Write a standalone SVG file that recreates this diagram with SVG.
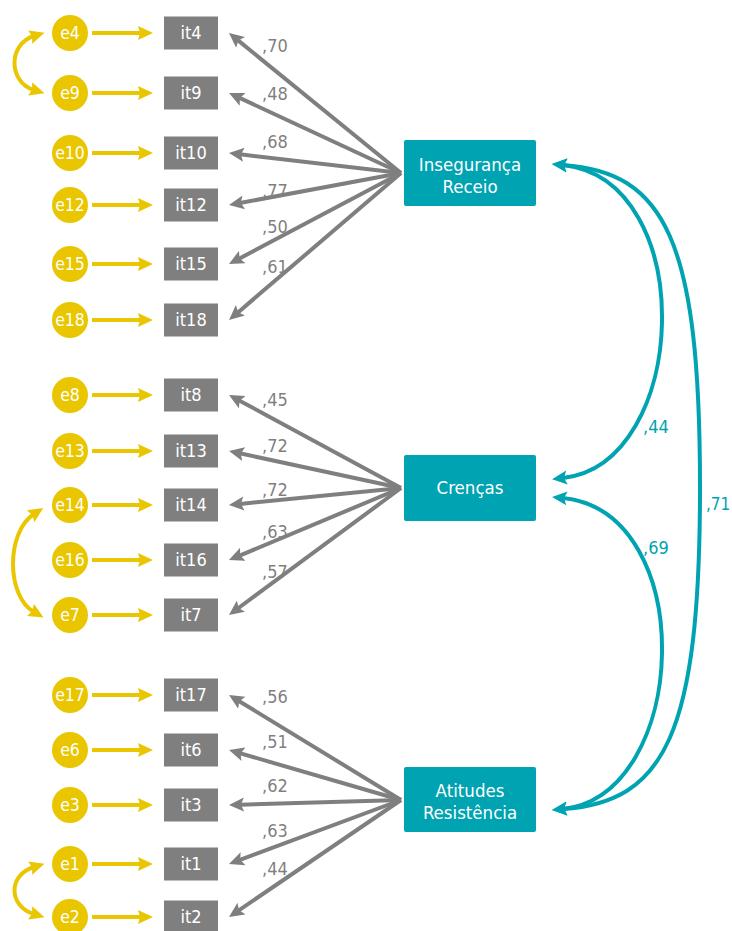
<svg xmlns="http://www.w3.org/2000/svg" width="732" height="931" viewBox="0 0 732 931">
<style>
text{font-family:'DejaVu Sans Condensed','DejaVu Sans','Liberation Sans',sans-serif;}
.e circle{fill:#e9c600;}
.e text{fill:#fff;font-size:17.5px;text-anchor:middle;}
.it rect{fill:#7f7f7f;}
.it text{fill:#fff;font-size:18px;text-anchor:middle;}
.lat rect{fill:#00a3b1;}
.lat text{fill:#fff;font-size:18.5px;text-anchor:middle;}
.y{stroke:#e9c600;stroke-width:4;fill:none;}
.g{stroke:#7f7f7f;stroke-width:4;fill:none;}
.t{stroke:#00a3b1;stroke-width:4;fill:none;}
.gl{fill:#7f7f7f;font-size:18px;}
.tl{fill:#00a3b1;font-size:18px;}
</style>
<defs>
<marker id="ay" markerUnits="userSpaceOnUse" markerWidth="16" markerHeight="15" refX="4" refY="7" orient="auto-start-reverse" viewBox="0 0 16 14"><path d="M0,0 L15,7 L0,14 L2,7 z" fill="#e9c600"/></marker>
<marker id="ag" markerUnits="userSpaceOnUse" markerWidth="16" markerHeight="15" refX="4" refY="7" orient="auto-start-reverse" viewBox="0 0 16 14"><path d="M0,0 L15,7 L0,14 L3,7 z" fill="#7f7f7f"/></marker>
<marker id="at" markerUnits="userSpaceOnUse" markerWidth="16" markerHeight="15" refX="4" refY="7" orient="auto-start-reverse" viewBox="0 0 16 14"><path d="M0,0 L15,7 L0,14 L3,7 z" fill="#00a3b1"/></marker>
</defs>

<g id="connectors">
<g marker-end="url(#ay)" class="y">
<line x1="92" y1="33" x2="142" y2="33"/>
<line x1="92" y1="93" x2="142" y2="93"/>
<line x1="92" y1="153" x2="142" y2="153"/>
<line x1="92" y1="205" x2="142" y2="205"/>
<line x1="92" y1="264" x2="142" y2="264"/>
<line x1="92" y1="320" x2="142" y2="320"/>
<line x1="92" y1="395" x2="142" y2="395"/>
<line x1="92" y1="451" x2="142" y2="451"/>
<line x1="92" y1="505" x2="142" y2="505"/>
<line x1="92" y1="560" x2="142" y2="560"/>
<line x1="92" y1="615" x2="142" y2="615"/>
<line x1="92" y1="695" x2="142" y2="695"/>
<line x1="92" y1="750" x2="142" y2="750"/>
<line x1="92" y1="805" x2="142" y2="805"/>
<line x1="92" y1="864" x2="142" y2="864"/>
<line x1="92" y1="917" x2="142" y2="917"/>
</g>
<g class="y" marker-start="url(#ay)" marker-end="url(#ay)">
<path d="M34 36 C8 44, 8 82, 34 90"/>
<path d="M34 514 C6 532, 6 596, 34 612"/>
<path d="M34 867 C8 875, 8 906, 34 914"/>
</g>
<g class="g" marker-end="url(#ag)">
<line x1="401" y1="173" x2="237.5" y2="39.9"/>
<line x1="401" y1="173" x2="239" y2="97.6"/>
<line x1="401" y1="173" x2="239.9" y2="154.3"/>
<line x1="401" y1="173" x2="239.8" y2="203"/>
<line x1="401" y1="173" x2="238.7" y2="258.9"/>
<line x1="401" y1="173" x2="237.4" y2="312.9"/>
<line x1="401" y1="488" x2="238.7" y2="400.2"/>
<line x1="401" y1="488" x2="239.8" y2="453.3"/>
<line x1="401" y1="488" x2="239.9" y2="503.9"/>
<line x1="401" y1="488" x2="239.1" y2="555.8"/>
<line x1="401" y1="488" x2="237.8" y2="608.5"/>
<line x1="401" y1="800" x2="238.4" y2="700.7"/>
<line x1="401" y1="800" x2="239.6" y2="753.1"/>
<line x1="401" y1="800" x2="240" y2="804.7"/>
<line x1="401" y1="800" x2="239.3" y2="860.2"/>
<line x1="401" y1="800" x2="238.1" y2="910.8"/>
</g>
<g class="t" marker-start="url(#at)" marker-end="url(#at)">
<path d="M563 165 C700 180, 690 464, 563 478"/>
<path d="M563 498 C700 512, 690 795, 563 809"/>
<path d="M563 165 C665 172, 700 240, 700 487 C700 734, 665 802, 563 809"/>
</g>
<g>
<text class="gl" x="262" y="52">,70</text>
<text class="gl" x="262" y="100">,48</text>
<text class="gl" x="262" y="148">,68</text>
<text class="gl" x="262" y="197">,77</text>
<text class="gl" x="262" y="233">,50</text>
<text class="gl" x="262" y="273">,61</text>
<text class="gl" x="262" y="406">,45</text>
<text class="gl" x="262" y="452">,72</text>
<text class="gl" x="262" y="496">,72</text>
<text class="gl" x="262" y="538">,63</text>
<text class="gl" x="262" y="578">,57</text>
<text class="gl" x="262" y="703">,56</text>
<text class="gl" x="262" y="748">,51</text>
<text class="gl" x="262" y="792">,62</text>
<text class="gl" x="262" y="837">,63</text>
<text class="gl" x="262" y="875">,44</text>
<text class="tl" x="643" y="433">,44</text>
<text class="tl" x="643" y="554">,69</text>
<text class="tl" x="706" y="510" style="font-size:17px">,71</text>
</g>
</g>

<g id="e4" class="e"><circle cx="70" cy="33" r="18"/><text x="70" y="39">e4</text></g>
<g id="e9" class="e"><circle cx="70" cy="93" r="18"/><text x="70" y="99">e9</text></g>
<g id="e10" class="e"><circle cx="70" cy="153" r="18"/><text x="70" y="159">e10</text></g>
<g id="e12" class="e"><circle cx="70" cy="205" r="18"/><text x="70" y="211">e12</text></g>
<g id="e15" class="e"><circle cx="70" cy="264" r="18"/><text x="70" y="270">e15</text></g>
<g id="e18" class="e"><circle cx="70" cy="320" r="18"/><text x="70" y="326">e18</text></g>
<g id="e8" class="e"><circle cx="70" cy="395" r="18"/><text x="70" y="401">e8</text></g>
<g id="e13" class="e"><circle cx="70" cy="451" r="18"/><text x="70" y="457">e13</text></g>
<g id="e14" class="e"><circle cx="70" cy="505" r="18"/><text x="70" y="511">e14</text></g>
<g id="e16" class="e"><circle cx="70" cy="560" r="18"/><text x="70" y="566">e16</text></g>
<g id="e7" class="e"><circle cx="70" cy="615" r="18"/><text x="70" y="621">e7</text></g>
<g id="e17" class="e"><circle cx="70" cy="695" r="18"/><text x="70" y="701">e17</text></g>
<g id="e6" class="e"><circle cx="70" cy="750" r="18"/><text x="70" y="756">e6</text></g>
<g id="e3" class="e"><circle cx="70" cy="805" r="18"/><text x="70" y="811">e3</text></g>
<g id="e1" class="e"><circle cx="70" cy="864" r="18"/><text x="70" y="870">e1</text></g>
<g id="e2" class="e"><circle cx="70" cy="917" r="18"/><text x="70" y="923">e2</text></g>

<g id="it4" class="it"><rect x="164" y="16.5" width="54" height="33"/><text x="191" y="39">it4</text></g>
<g id="it9" class="it"><rect x="164" y="76.5" width="54" height="33"/><text x="191" y="99">it9</text></g>
<g id="it10" class="it"><rect x="164" y="136.5" width="54" height="33"/><text x="191" y="159">it10</text></g>
<g id="it12" class="it"><rect x="164" y="188.5" width="54" height="33"/><text x="191" y="211">it12</text></g>
<g id="it15" class="it"><rect x="164" y="247.5" width="54" height="33"/><text x="191" y="270">it15</text></g>
<g id="it18" class="it"><rect x="164" y="303.5" width="54" height="33"/><text x="191" y="326">it18</text></g>
<g id="it8" class="it"><rect x="164" y="378.5" width="54" height="33"/><text x="191" y="401">it8</text></g>
<g id="it13" class="it"><rect x="164" y="434.5" width="54" height="33"/><text x="191" y="457">it13</text></g>
<g id="it14" class="it"><rect x="164" y="488.5" width="54" height="33"/><text x="191" y="511">it14</text></g>
<g id="it16" class="it"><rect x="164" y="543.5" width="54" height="33"/><text x="191" y="566">it16</text></g>
<g id="it7" class="it"><rect x="164" y="598.5" width="54" height="33"/><text x="191" y="621">it7</text></g>
<g id="it17" class="it"><rect x="164" y="678.5" width="54" height="33"/><text x="191" y="701">it17</text></g>
<g id="it6" class="it"><rect x="164" y="733.5" width="54" height="33"/><text x="191" y="756">it6</text></g>
<g id="it3" class="it"><rect x="164" y="788.5" width="54" height="33"/><text x="191" y="811">it3</text></g>
<g id="it1" class="it"><rect x="164" y="847.5" width="54" height="33"/><text x="191" y="870">it1</text></g>
<g id="it2" class="it"><rect x="164" y="900.5" width="54" height="33"/><text x="191" y="923">it2</text></g>

<g id="inseguranca" class="lat"><rect x="404" y="140" width="132" height="66" rx="2"/><text x="470" y="171">Insegurança</text><text x="470" y="193">Receio</text></g>
<g id="crencas" class="lat"><rect x="404" y="455" width="132" height="66" rx="2"/><text x="470" y="494">Crenças</text></g>
<g id="atitudes" class="lat"><rect x="404" y="767" width="132" height="65" rx="2"/><text x="470" y="797">Atitudes</text><text x="470" y="819">Resistência</text></g>
</svg>
